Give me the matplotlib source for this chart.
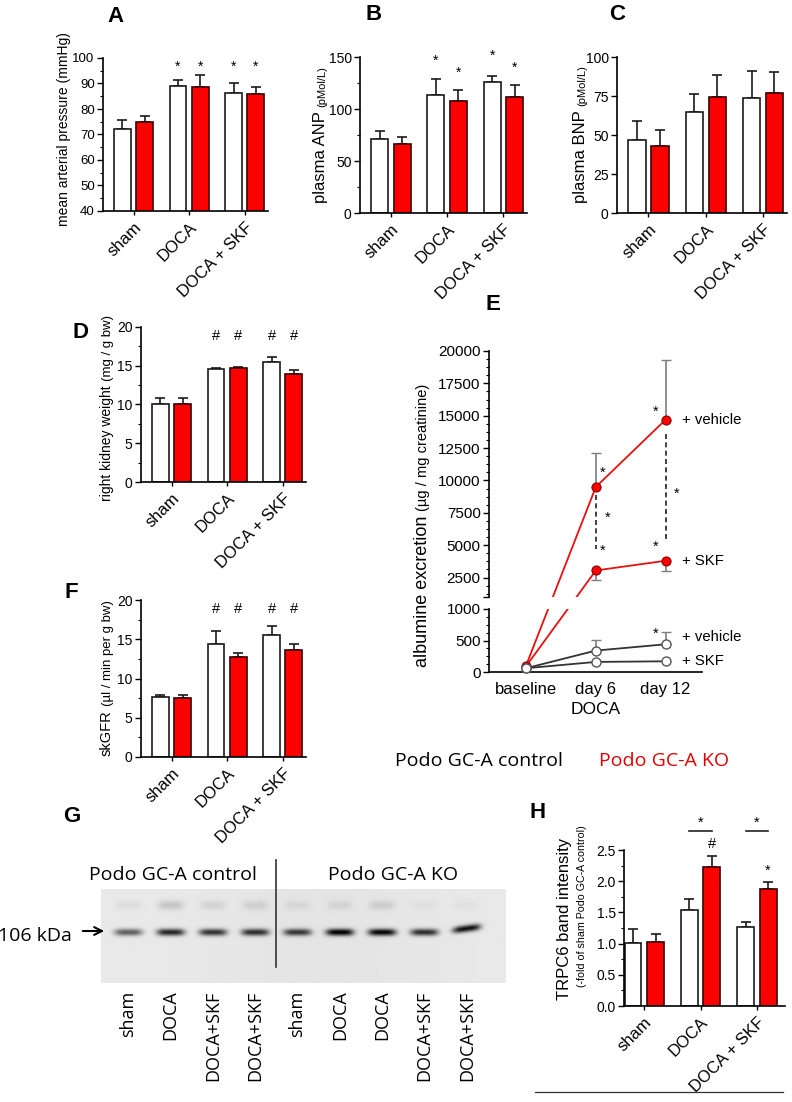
import numpy as np
import matplotlib
matplotlib.use("Agg")
import matplotlib.pyplot as plt
from matplotlib.ticker import MultipleLocator, FormatStrFormatter
from matplotlib.lines import Line2D
from matplotlib.text import Annotation
from matplotlib.patches import FancyArrowPatch

plt.rcParams['font.family'] = ['Liberation Sans', 'DejaVu Sans']

# ---- data ----
groups = ["sham", "DOCA", "DOCA + SKF"]

map_ctrl = [72.0, 89.0, 86.3]
map_ctrl_err = [3.5, 2.2, 3.8]
map_ko = [74.8, 88.5, 85.8]
map_ko_err = [2.3, 4.8, 3.0]

anp_ctrl = [71, 113, 126]
anp_ctrl_err = [8, 16, 6]
anp_ko = [66, 108, 112]
anp_ko_err = [7, 10, 11]

bnp_ctrl = [47, 65, 73.5]
bnp_ctrl_err = [12, 11, 17.5]
bnp_ko = [43, 74.5, 77]
bnp_ko_err = [10, 14, 13.5]

kw_ctrl = [10.1, 14.6, 15.5]
kw_ctrl_err = [0.7, 0.15, 0.6]
kw_ko = [10.1, 14.65, 13.9]
kw_ko_err = [0.7, 0.25, 0.5]

gfr_ctrl = [7.7, 14.4, 15.6]
gfr_ctrl_err = [0.2, 1.6, 1.1]
gfr_ko = [7.5, 12.8, 13.6]
gfr_ko_err = [0.4, 0.5, 0.8]

trpc_ctrl = [1.01, 1.54, 1.27]
trpc_ctrl_err = [0.23, 0.18, 0.07]
trpc_ko = [1.03, 2.23, 1.88]
trpc_ko_err = [0.12, 0.18, 0.11]

# albuminuria (panel E)
days = ["baseline", "day 6", "day 12"]
ko_vehicle = [100, 9500, 14700]
ko_vehicle_err = [0, 2600, 4600]
ko_skf = [90, 3050, 3800]
ko_skf_err = [0, 750, 800]
ctrl_vehicle = [60, 340, 440]
ctrl_vehicle_err = [0, 170, 190]
ctrl_skf = [60, 160, 170]

# western blot (panel G)
lane_labels = ["sham", "DOCA", "DOCA+SKF", "DOCA+SKF", "sham",
               "DOCA", "DOCA", "DOCA+SKF", "DOCA+SKF"]
band_level = [0.55, 0.78, 0.72, 0.74, 0.70, 0.92, 0.90, 0.74, 0.85]
band_upper = [0.05, 0.14, 0.08, 0.09, 0.06, 0.07, 0.10, 0.03, 0.03]

RED = "#ff0000"
FW, FH = 792, 1102
fig = plt.figure(figsize=(FW / 100, FH / 100), dpi=100)


def fx(px):
    return px / FW


def fy(py):
    return 1 - py / FH


def add_ax(l, t, r, b):
    return fig.add_axes([fx(l), fy(b), (r - l) / FW, (b - t) / FH])


def style_ax(ax, ysize=10):
    for s in ["top", "right"]:
        ax.spines[s].set_visible(False)
    for s in ["left", "bottom"]:
        ax.spines[s].set_linewidth(1.2)
    ax.tick_params(axis="y", which="major", length=4, width=1, labelsize=ysize, pad=2)
    ax.tick_params(axis="y", which="minor", length=2.5, width=0.8)
    ax.tick_params(axis="x", length=3, width=1)


def bar_panel(ax, ctrl, ctrl_err, ko, ko_err, ylim, major, minor, xlim=(-0.55, 2.42)):
    x = np.arange(len(groups))
    ax.bar(x - 0.2, ctrl, 0.3, color="white", edgecolor="#1a1a1a", lw=1.2, zorder=2)
    ax.bar(x + 0.2, ko, 0.3, color=RED, edgecolor="#3a0000", lw=1.2, zorder=2)
    ax.errorbar(x - 0.2, ctrl, yerr=[np.zeros(3), ctrl_err], fmt="none",
                ecolor="#1a1a1a", elinewidth=1.2, capsize=3.5, capthick=1.2, zorder=1)
    ax.errorbar(x + 0.2, ko, yerr=[np.zeros(3), ko_err], fmt="none",
                ecolor="#1a1a1a", elinewidth=1.2, capsize=3.5, capthick=1.2, zorder=1)
    ax.set_xlim(*xlim)
    ax.set_ylim(*ylim)
    ax.yaxis.set_major_locator(MultipleLocator(major))
    ax.yaxis.set_minor_locator(MultipleLocator(minor))
    ax.set_xticks(x)
    ax.set_xticklabels(groups, rotation=45, ha="right", rotation_mode="anchor", fontsize=12)
    style_ax(ax)


def split_label(x, ybot, main, small, main_size=10.5, small_size=8.5):
    t = fig.text(fx(x), fy(ybot), main, rotation=90, ha="center", va="bottom",
                 fontsize=main_size)
    ann = Annotation(small, xy=(0.5, 1), xycoords=t, xytext=(0.8, 3),
                     textcoords="offset points", rotation=90, ha="center",
                     va="bottom", fontsize=small_size, annotation_clip=False)
    fig.add_artist(ann)
    return t, ann


def letter(x, y, s):
    fig.text(fx(x), fy(y), s, fontsize=16, fontweight="bold", ha="center", va="center")


# ---- A ----
axA = add_ax(103, 58, 268, 211)
bar_panel(axA, map_ctrl, map_ctrl_err, map_ko, map_ko_err, (40, 100), 10, 5)
axA.tick_params(axis="y", labelsize=9.5)
for g in [1, 2]:
    for off in (-0.2, 0.2):
        axA.text(g + off, 96.5, "*", ha="center", va="center", fontsize=10)
fig.text(fx(64), fy(129), "mean arterial pressure (mmHg)", rotation=90,
         ha="center", va="center", fontsize=10)
letter(115, 16, "A")

# ---- B ----
axB = add_ax(360, 57, 527, 213)
bar_panel(axB, anp_ctrl, anp_ctrl_err, anp_ko, anp_ko_err, (0, 150), 50, 25)
for g, off, yv in [(1, -0.2, 146), (1, 0.2, 135), (2, -0.2, 151), (2, 0.2, 140)]:
    axB.text(g + off, yv, "*", ha="center", va="center", fontsize=10)
split_label(321, 203, "plasma ANP", "(pMol/L)", 12, 8)
letter(374, 15, "B")

# ---- C ----
axC = add_ax(617, 57, 787, 213)
bar_panel(axC, bnp_ctrl, bnp_ctrl_err, bnp_ko, bnp_ko_err, (0, 100), 25, 25)
split_label(581, 203, "plasma BNP", "(pMol/L)", 12, 8)
letter(617, 15, "C")

# ---- D ----
axD = add_ax(141, 327, 306, 482)
bar_panel(axD, kw_ctrl, kw_ctrl_err, kw_ko, kw_ko_err, (0, 20), 5, 2.5)
for g in [1, 2]:
    for off in (-0.2, 0.2):
        axD.text(g + off, 18.8, "#", ha="center", va="center", fontsize=10.5)
split_label(107, 501, "right kidney weight", "(mg / g bw)", 10, 9.5)
letter(81, 333, "D")

# ---- F ----
axF = add_ax(141, 600, 306, 757)
bar_panel(axF, gfr_ctrl, gfr_ctrl_err, gfr_ko, gfr_ko_err, (0, 20), 5, 2.5)
for g in [1, 2]:
    for off in (-0.2, 0.2):
        axF.text(g + off, 18.9, "#", ha="center", va="center", fontsize=10.5)
split_label(107, 756, "skGFR", "(\u00b5l / min per g bw)", 10.5, 9.5)
letter(71, 592, "F")

# ---- E ----
axEt = add_ax(489, 351, 702, 597)
axEb = add_ax(489, 609, 702, 672)
xd = np.arange(len(days))
for ax in (axEt, axEb):
    ax.set_xlim(-0.53, 2.52)
    style_ax(ax, ysize=11)
axEt.set_ylim(1000, 20000)
axEb.set_ylim(0, 1000)
axEt.spines["bottom"].set_visible(False)
axEt.set_xticks([])
axEt.set_yticks([1000, 2500, 5000, 7500, 10000, 12500, 15000, 17500, 20000])
axEt.set_yticklabels(["", "2500", "5000", "7500", "10000", "12500", "15000", "17500", "20000"])
axEt.yaxis.set_minor_locator(MultipleLocator(625))
axEb.set_yticks([0, 500, 1000])
axEb.yaxis.set_minor_locator(MultipleLocator(125))
axEb.set_xticks(xd)
axEb.set_xticklabels(days, fontsize=12)
axEb.tick_params(axis="x", length=0, pad=7)
axEb.set_xlabel("DOCA", fontsize=12.5, labelpad=4)

red_kw = dict(color="#e81010", lw=1.3)
red_mk = dict(marker="o", ms=6.5, mfc=RED, mec="#8a0000", mew=0.8, ls="none")
open_mk = dict(marker="o", ms=6.5, mfc="white", mec="#555555", mew=1.0, ls="none")


def to_ax(src, dst, x, y):
    pt = src.transData.transform((x, y))
    return dst.transData.inverted().transform(pt)


for series in (ko_vehicle, ko_skf):
    # baseline (lower axis) to day 6 (upper axis), clipped at the break
    b_up = to_ax(axEb, axEt, xd[0], series[0])
    d6_lo = to_ax(axEt, axEb, xd[1], series[1])
    axEt.plot([b_up[0], xd[1], xd[2]], [b_up[1], series[1], series[2]], zorder=3, **red_kw)
    axEb.plot([xd[0], d6_lo[0]], [series[0], d6_lo[1]], zorder=3, **red_kw)

axEt.errorbar(xd[1:], ko_vehicle[1:], yerr=[[0, 0], ko_vehicle_err[1:]], fmt="none",
              ecolor="#7f7f7f", elinewidth=1.2, capsize=3.5, zorder=2)
axEt.errorbar(xd[1:], ko_skf[1:], yerr=[ko_skf_err[1:], [0, 0]], fmt="none",
              ecolor="#7f7f7f", elinewidth=1.2, capsize=3.5, zorder=2)
axEt.plot(xd[1:], ko_vehicle[1:], zorder=4, **red_mk)
axEt.plot(xd[1:], ko_skf[1:], zorder=4, **red_mk)

axEb.plot(xd, ctrl_vehicle, color="#333333", lw=1.3, zorder=2)
axEb.plot(xd, ctrl_skf, color="#333333", lw=1.3, zorder=2)
axEb.errorbar(xd[1:], ctrl_vehicle[1:], yerr=[[0, 0], ctrl_vehicle_err[1:]], fmt="none",
              ecolor="#7f7f7f", elinewidth=1.2, capsize=3.5, zorder=1)
axEb.plot([xd[0]], [ko_vehicle[0]], zorder=4, clip_on=False, **red_mk)
axEb.plot(xd, ctrl_vehicle, zorder=5, clip_on=False, **open_mk)
axEb.plot(xd, ctrl_skf, zorder=5, clip_on=False, **open_mk)

# significance marks
axEt.plot([xd[1], xd[1]], [8860, 4700], ls=(0, (3, 2)), color="#222222", lw=1.2)
axEt.plot([xd[2], xd[2]], [13600, 5450], ls=(0, (3, 2)), color="#222222", lw=1.2)
for xv, yv in [(1.09, 10600), (1.17, 7150), (1.1, 4550), (1.86, 15300), (2.16, 8950), (1.86, 4850)]:
    axEt.text(xv, yv, "*", ha="center", va="center", fontsize=10.5)
axEb.text(1.86, 600, "*", ha="center", va="center", fontsize=10.5)

for ax, yv, s in [(axEt, ko_vehicle[2], "+ vehicle"), (axEt, ko_skf[2], "+ SKF"),
                  (axEb, 560, "+ vehicle"), (axEb, 180, "+ SKF")]:
    ax.text(2.24, yv, s, ha="left", va="center", fontsize=10.7, clip_on=False)

split_label(422, 667, "albumine excretion", "(\u00b5g / mg creatinine)", 13, 10.5)
letter(493, 304, "E")

fig.text(fx(563), fy(761), "Podo GC-A control", ha="right", va="center",
         fontsize=14, family="Open Sans")
fig.text(fx(599), fy(761), "Podo GC-A KO", ha="left", va="center",
         fontsize=14, family="Open Sans", color="#e00000")

# ---- G (western blot) ----
axG = add_ax(101, 889, 506, 983)
xs = np.linspace(-0.64, 8.92, 480)
ys = np.linspace(0, 1, 120)
XX, YY = np.meshgrid(xs, ys)
img = np.full(XX.shape, 0.915)
img -= 0.02 * np.exp(-((XX - 4.6) / 3.0) ** 2)
for i, (lv, up) in enumerate(zip(band_level, band_upper)):
    tilt = -0.06 if i == 8 else 0.0
    yc = 0.46 + tilt * (XX - i) + (-0.04 if i == 8 else 0.0)
    img -= lv * np.exp(-np.abs((XX - i) / 0.33) ** 4) * np.exp(-((YY - yc) / 0.037) ** 2)
    img -= up * np.exp(-np.abs((XX - i) / 0.3) ** 4) * np.exp(-((YY - 0.17) / 0.05) ** 2)
axG.imshow(np.clip(img, 0, 1), cmap="gray", vmin=0, vmax=1, aspect="auto",
           extent=(-0.64, 8.92, 1, 0), interpolation="bilinear")
axG.set_xlim(-0.64, 8.92)
axG.set_ylim(1, 0)
axG.axis("off")
axG.axvline(3.5, ymin=0.17, ymax=1.31, color="#333333", lw=1.2, clip_on=False)
axG.text(1.05, -0.15, "Podo GC-A control", ha="center", va="center",
         fontsize=14, family="Open Sans")
axG.text(6.26, -0.15, "Podo GC-A KO", ha="center", va="center",
         fontsize=14, family="Open Sans")
for i, lab in enumerate(lane_labels):
    axG.text(i, 1.08, lab, rotation=90, ha="center", va="top",
             fontsize=13, family="Open Sans")
fig.text(fx(35), fy(936), "106 kDa", ha="center", va="center", fontsize=14, family="Open Sans")
fig.add_artist(FancyArrowPatch((fx(80), fy(931)), (fx(107), fy(931)),
               transform=fig.transFigure, arrowstyle="->", mutation_scale=14, lw=1.5,
               color="k"))
letter(72, 817, "G")

# ---- H ----
axH = add_ax(624, 850, 785, 1006)
bar_panel(axH, trpc_ctrl, trpc_ctrl_err, trpc_ko, trpc_ko_err, (0, 2.5), 0.5, 0.25,
          xlim=(-0.36, 2.5))
axH.yaxis.set_major_formatter(FormatStrFormatter("%.1f"))
axH.text(1.2, 2.6, "#", ha="center", va="center", fontsize=10.5)
axH.text(2.2, 2.16, "*", ha="center", va="center", fontsize=10.5)
for g in [1, 2]:
    axH.plot([g - 0.2, g + 0.2], [2.8, 2.8], color="#222222", lw=1.2, clip_on=False)
    axH.text(g, 2.93, "*", ha="center", va="center", fontsize=10.5)
fig.text(fx(564), fy(919), "TRPC6 band intensity", rotation=90, ha="center",
         va="center", fontsize=12)
fig.text(fx(582), fy(906), "(-fold of sham Podo GC-A control)", rotation=90,
         ha="center", va="center", fontsize=7.7)
fig.add_artist(Line2D([fx(535), fx(783)], [fy(1092), fy(1092)],
                      transform=fig.transFigure, color="#333333", lw=0.9))
letter(538, 812, "H")

fig.savefig("out.png", dpi=100)
